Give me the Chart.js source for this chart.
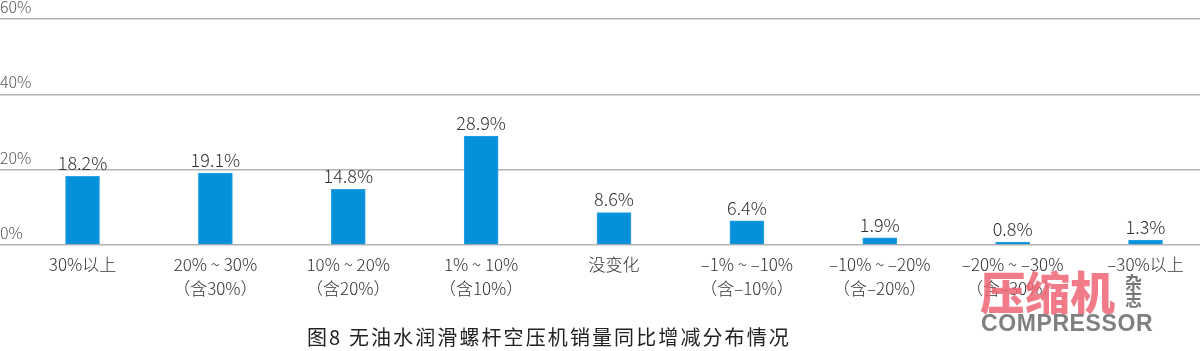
<!DOCTYPE html>
<html>
<head>
<meta charset="utf-8">
<script src="https://cdn.jsdelivr.net/npm/chart.js@4.4.1/dist/chart.umd.min.js"></script>
<style>
  html, body { margin: 0; padding: 0; background: #fff; overflow: hidden; }
  #wrap { position: relative; width: 1200px; height: 351px; }
  #chart { position: absolute; left: 0; top: 0; }
  .title {
    position: absolute; left: 307px; top: 326px;
    font: 400 20px/22px "Noto Sans CJK SC", sans-serif; color: #222;
    letter-spacing: 2.1px; white-space: nowrap;
  }
  .wm { position: absolute; white-space: nowrap; }
  .wm-main { left: 980px; top: 268px; font: 900 45px/45px "Noto Sans CJK SC", sans-serif; color: rgba(238, 100, 115, 0.85); letter-spacing: 0px; }
  .wm-side { left: 1125px; top: 273px; font: 700 17px/17px "Noto Sans CJK SC", sans-serif; color: #777; }
  .wm-en { left: 981px; top: 312px; font: 700 23px/23px "Liberation Sans", Arial, sans-serif; color: #808080; letter-spacing: 0.6px; }
</style>
</head>
<body>
<div id="wrap">
  <canvas id="chart" width="1200" height="351"></canvas>
  <div class="title">图8 无油水润滑螺杆空压机销量同比增减分布情况</div>
  <div class="wm wm-main">压缩机</div>
  <div class="wm wm-side">杂<br>志</div>
  <div class="wm wm-en">COMPRESSOR</div>
</div>
<script>
// categories (multi-line labels)
const categories = [
  '30%以上',
  ['20% ~ 30%', '（含30%）'],
  ['10% ~ 20%', '（含20%）'],
  ['1% ~ 10%', '（含10%）'],
  '没变化',
  ['–1% ~ –10%', '（含–10%）'],
  ['–10% ~ –20%', '（含–20%）'],
  ['–20% ~ –30%', '（含–30%）'],
  '–30%以上'
];
const values = [18.2, 19.1, 14.8, 28.9, 8.6, 6.4, 1.9, 0.8, 1.3];
const yTicks = [0, 20, 40, 60];

const FONT = '"Noto Sans CJK SC", "Noto Sans", sans-serif';

// value labels above bars
const valueLabels = {
  id: 'valueLabels',
  afterDatasetsDraw(chart) {
    const ctx = chart.ctx;
    const meta = chart.getDatasetMeta(0);
    ctx.save();
    ctx.font = '300 18px ' + FONT;
    ctx.fillStyle = '#333';
    ctx.textAlign = 'center';
    ctx.textBaseline = 'bottom';
    meta.data.forEach((bar, i) => {
      ctx.fillText(values[i].toFixed(1) + '%', bar.x, bar.y - 4);
    });
    ctx.restore();
  }
};

new Chart(document.getElementById('chart').getContext('2d'), {
  type: 'bar',
  data: {
    datasets: [{
      data: values.map((v, i) => ({ x: i, y: v })),
      backgroundColor: '#0590da',
      borderColor: '#2aa3e4',
      borderWidth: 1,
      barThickness: 34
    }]
  },
  options: {
    responsive: false,
    animation: false,
    layout: { padding: { top: 19, left: 0, right: 0, bottom: 0 } },
    plugins: { legend: { display: false }, tooltip: { enabled: false } },
    scales: {
      x: {
        type: 'linear',
        offset: false,
        min: -0.621,
        max: 8.41,
        grid: { display: false, drawTicks: false },
        border: { display: false },
        afterBuildTicks: axis => { axis.ticks = categories.map((_, i) => ({ value: i })); },
        afterFit: axis => { axis.height = 351 - 245; },
        ticks: {
          autoSkip: false,
          maxRotation: 0,
          padding: 8,
          color: '#333',
          font: { family: FONT, size: 17, weight: 300, lineHeight: 1.4 },
          callback: v => categories[v]
        }
      },
      y: {
        min: 0,
        max: 60,
        afterBuildTicks: axis => { axis.ticks = yTicks.map(v => ({ value: v })); },
        afterFit: axis => { axis.width = 0; },
        grid: { color: '#b3b3b3', lineWidth: 1.6, drawTicks: false },
        border: { display: false },
        ticks: {
          mirror: true,
          padding: 0,
          labelOffset: -12,
          color: '#555',
          font: { family: FONT, size: 16, weight: 300 },
          callback: v => v + '%'
        }
      }
    }
  },
  plugins: [valueLabels]
});
</script>
</body>
</html>
